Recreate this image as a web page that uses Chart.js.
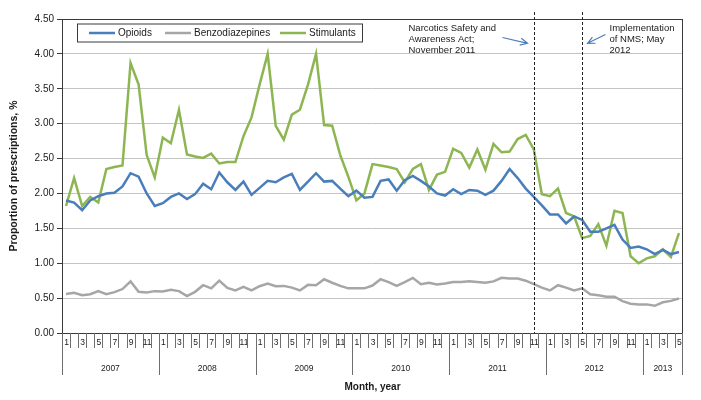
<!DOCTYPE html>
<html>
<head>
<meta charset="utf-8">
<script src="https://cdn.jsdelivr.net/npm/chart.js@4.4.0/dist/chart.umd.min.js"></script>
<style>
  html, body { margin: 0; padding: 0; background: #fff; }
</style>
</head>
<body>
<canvas id="prescChart" width="701" height="400"></canvas>
<script>
// categories: months Jan 2007 .. May 2013
const years = ['2007', '2008', '2009', '2010', '2011', '2012', '2013'];
const monthsInYear = [12, 12, 12, 12, 12, 12, 5];
const monthTicks = ['1', '', '3', '', '5', '', '7', '', '9', '', '11', ''];
const yTickLabels = ['0.00', '0.50', '1.00', '1.50', '2.00', '2.50', '3.00', '3.50', '4.00', '4.50'];

// proportion of prescriptions, %
const opioids = [
    1.90, 1.87, 1.76, 1.90, 1.96, 2.00, 2.01, 2.10, 2.29, 2.24, 2.00, 1.82,
    1.86, 1.95, 2.00, 1.92, 1.99, 2.14, 2.06, 2.30, 2.16, 2.05, 2.17, 1.98,
    2.08, 2.18, 2.16, 2.23, 2.28, 2.05, 2.17, 2.29, 2.17, 2.18, 2.07, 1.96,
    2.04, 1.94, 1.95, 2.18, 2.20, 2.04, 2.19, 2.25, 2.18, 2.10, 2.00, 1.97,
    2.06, 1.99, 2.05, 2.04, 1.98, 2.04, 2.18, 2.35, 2.22, 2.07, 1.95, 1.83,
    1.70, 1.70, 1.57, 1.67, 1.62, 1.45, 1.45, 1.50, 1.55, 1.34, 1.22, 1.24,
    1.20, 1.13, 1.19, 1.13, 1.16
];
const benzodiazepines = [
    0.56, 0.575, 0.54, 0.556, 0.60, 0.556, 0.585, 0.63, 0.74, 0.59, 0.58, 0.60,
    0.595, 0.62, 0.60, 0.53, 0.59, 0.685, 0.64, 0.75, 0.645, 0.61, 0.66, 0.61,
    0.67, 0.71, 0.67, 0.675, 0.65, 0.61, 0.69, 0.685, 0.77, 0.72, 0.675, 0.64,
    0.64, 0.64, 0.68, 0.77, 0.73, 0.675, 0.73, 0.79, 0.70, 0.72, 0.695, 0.71,
    0.73, 0.73, 0.74, 0.73, 0.72, 0.74, 0.79, 0.78, 0.78, 0.75, 0.70, 0.65,
    0.61, 0.685, 0.65, 0.61, 0.64, 0.556, 0.54, 0.52, 0.52, 0.456, 0.42, 0.41,
    0.41, 0.39, 0.44, 0.46, 0.494
];
const stimulants = [
    1.82, 2.22, 1.82, 1.95, 1.87, 2.35, 2.38, 2.40, 3.87, 3.56, 2.55, 2.23,
    2.80, 2.72, 3.20, 2.56, 2.53, 2.51, 2.57, 2.43, 2.45, 2.45, 2.82, 3.09,
    3.56, 4.00, 2.97, 2.77, 3.13, 3.20, 3.56, 4.00, 2.98, 2.97, 2.55, 2.24,
    1.90, 2.00, 2.42, 2.40, 2.38, 2.35, 2.16, 2.35, 2.42, 2.05, 2.27, 2.31,
    2.64, 2.58, 2.37, 2.63, 2.34, 2.71, 2.59, 2.60, 2.78, 2.84, 2.63, 1.99,
    1.96, 2.07, 1.72, 1.67, 1.36, 1.39, 1.56, 1.25, 1.75, 1.72, 1.10, 1.00,
    1.07, 1.10, 1.20, 1.09, 1.43
];

// policy events (index of the month in the series)
const events = [
    { month: 58, text: ['Narcotics Safety and', 'Awareness Act;', 'November 2011'] },
    { month: 64, text: ['Implementation', 'of NMS; May', '2012'] }
];

const FONT = '"Liberation Sans", Arial, Helvetica, sans-serif';
const TEXT = '#1a1a1a';

const labels = [];
years.forEach((yr, k) => {
    for (let m = 1; m <= monthsInYear[k]; m++) labels.push(m + '/' + yr);
});

// border round the plot area
const plotFrame = {
    id: 'plotFrame',
    afterDatasetsDraw(chart) {
        const ctx = chart.ctx, a = chart.chartArea;
        ctx.save();
        ctx.strokeStyle = '#3a3a3a';
        ctx.lineWidth = 1;
        ctx.strokeRect(Math.round(a.left) + 0.5, Math.round(a.top) + 0.5,
            Math.round(a.right - a.left) - 1, Math.round(a.bottom - a.top));
        ctx.restore();
    }
};

// two-level month / year category axis
const monthAxis = {
    id: 'monthAxis',
    afterDraw(chart) {
        const ctx = chart.ctx, x = chart.scales.x, base = Math.round(chart.chartArea.bottom);
        const step = x.getPixelForValue(1) - x.getPixelForValue(0);
        ctx.save();
        ctx.strokeStyle = '#6e6e6e';
        ctx.lineWidth = 1;
        ctx.fillStyle = TEXT;
        ctx.textAlign = 'center';
        ctx.textBaseline = 'middle';
        let i = 0;
        years.forEach((yr, k) => {
            const start = x.getPixelForValue(i) - step / 2;
            ctx.font = '8.5px ' + FONT;
            for (let m = 0; m < monthsInYear[k]; m++) {
                const px = x.getPixelForValue(i + m);
                const bx = Math.round(px - step / 2) + 0.5;
                ctx.beginPath();
                ctx.moveTo(bx, base);
                ctx.lineTo(bx, base + (m === 0 ? 42 : 15));
                ctx.stroke();
                if (monthTicks[m]) ctx.fillText(monthTicks[m], px + 0.5, base + 10);
            }
            i += monthsInYear[k];
            const end = x.getPixelForValue(i - 1) + step / 2;
            ctx.font = '8.5px ' + FONT;
            ctx.fillText(yr, (start + end) / 2, base + 36);
        });
        const last = Math.round(x.getPixelForValue(i - 1) + step / 2) - 0.5;
        ctx.beginPath();
        ctx.moveTo(last, base);
        ctx.lineTo(last, base + 42);
        ctx.stroke();
        ctx.restore();
    }
};

// legend drawn as a framed box inside the plot
const boxLegend = {
    id: 'boxLegend',
    afterDraw(chart) {
        const ctx = chart.ctx;
        const left = 77, top = 23.5, w = 285, h = 18;
        const itemX = [89, 165, 280];
        ctx.save();
        ctx.fillStyle = '#fff';
        ctx.fillRect(left, top, w, h);
        ctx.strokeStyle = '#3a3a3a';
        ctx.lineWidth = 1;
        ctx.strokeRect(left + 0.5, top + 0.5, w, h);
        ctx.font = '10px ' + FONT;
        ctx.textBaseline = 'middle';
        ctx.textAlign = 'left';
        chart.data.datasets.forEach((ds, k) => {
            const y = top + h / 2 + 0.5;
            ctx.strokeStyle = ds.borderColor;
            ctx.lineWidth = 2.5;
            ctx.beginPath();
            ctx.moveTo(itemX[k], y);
            ctx.lineTo(itemX[k] + 26, y);
            ctx.stroke();
            ctx.fillStyle = TEXT;
            ctx.fillText(ds.label, itemX[k] + 29, y);
        });
        ctx.restore();
    }
};

// dashed event lines, notes and arrows
const eventNotes = {
    id: 'eventNotes',
    afterDraw(chart) {
        const ctx = chart.ctx, x = chart.scales.x, a = chart.chartArea;
        ctx.save();
        events.forEach((ev, k) => {
            const px = Math.round(x.getPixelForValue(ev.month)) + 0.5;
            ctx.strokeStyle = '#222';
            ctx.lineWidth = 1;
            ctx.setLineDash([3, 2]);
            ctx.beginPath();
            ctx.moveTo(px, 12);
            ctx.lineTo(px, a.bottom);
            ctx.stroke();
            ctx.setLineDash([]);

            ctx.fillStyle = TEXT;
            ctx.font = '9.5px ' + FONT;
            ctx.textAlign = 'left';
            ctx.textBaseline = 'middle';
            const tx = k === 0 ? px - 126 : px + 27;
            ev.text.forEach((line, j) => ctx.fillText(line, tx, 28.5 + j * 11));

            // arrow pointing at the line
            const from = k === 0 ? [px - 32, 37.5] : [px + 23, 34.5];
            const to = k === 0 ? [px - 7, 43.3] : [px + 5, 43.3];
            const ang = Math.atan2(to[1] - from[1], to[0] - from[0]);
            ctx.strokeStyle = '#4a7ebb';
            ctx.lineWidth = 1.2;
            ctx.beginPath();
            ctx.moveTo(from[0], from[1]);
            ctx.lineTo(to[0], to[1]);
            ctx.moveTo(to[0] - 8 * Math.cos(ang - 0.45), to[1] - 8 * Math.sin(ang - 0.45));
            ctx.lineTo(to[0], to[1]);
            ctx.lineTo(to[0] - 8 * Math.cos(ang + 0.45), to[1] - 8 * Math.sin(ang + 0.45));
            ctx.stroke();
        });
        ctx.restore();
    }
};

const ctx = document.getElementById('prescChart').getContext('2d');
new Chart(ctx, {
    type: 'line',
    data: {
        labels: labels,
        datasets: [
            { label: 'Opioids', data: opioids, borderColor: '#4a7ebb' },
            { label: 'Benzodiazepines', data: benzodiazepines, borderColor: '#a6a6a6' },
            { label: 'Stimulants', data: stimulants, borderColor: '#8db653' }
        ]
    },
    options: {
        responsive: false,
        animation: false,
        devicePixelRatio: 1,
        layout: { padding: { top: 19, right: 18, left: 0, bottom: 0 } },
        elements: {
            point: { radius: 0 },
            line: { borderWidth: 2.5, tension: 0, fill: false }
        },
        plugins: {
            legend: { display: false },
            tooltip: { enabled: false }
        },
        scales: {
            x: {
                offset: true,
                grid: { display: false },
                border: { display: false },
                ticks: { display: false },
                title: {
                    display: true,
                    text: 'Month, year',
                    color: TEXT,
                    font: { family: FONT, size: 10, weight: 'bold' },
                    padding: { top: 0, bottom: 7 }
                },
                afterFit(scale) { scale.height = 67; }
            },
            y: {
                min: 0,
                max: 4.5,
                ticks: {
                    stepSize: 0.5,
                    padding: 3,
                    color: TEXT,
                    font: { family: FONT, size: 10 },
                    callback: (v, i) => yTickLabels[i]
                },
                grid: { color: '#c4c4c4', tickColor: '#3a3a3a', tickLength: 5 },
                border: { display: false },
                title: {
                    display: true,
                    text: 'Proportion of prescriptions, %',
                    color: TEXT,
                    font: { family: FONT, size: 10.5, weight: 'bold' },
                    padding: { top: 8, bottom: 0 }
                },
                afterFit(scale) { scale.width = 62; }
            }
        }
    },
    plugins: [plotFrame, monthAxis, boxLegend, eventNotes]
});
</script>
</body>
</html>
